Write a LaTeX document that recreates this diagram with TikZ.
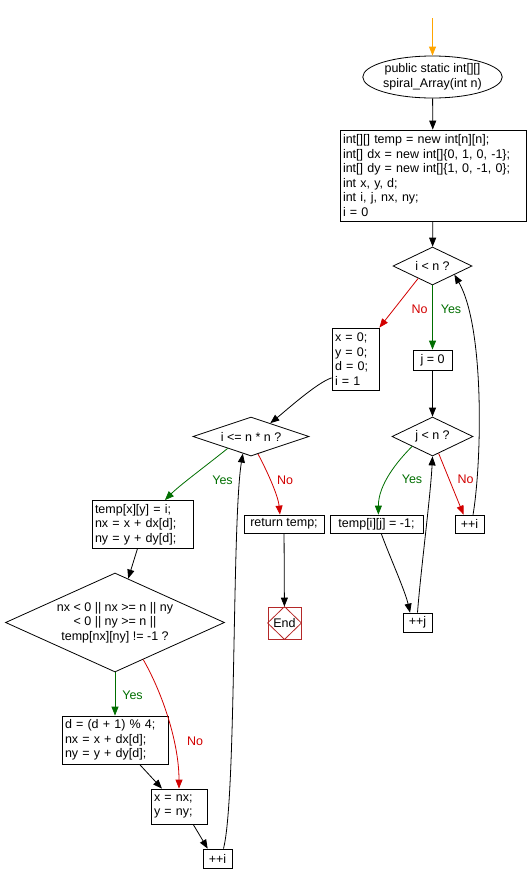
\documentclass[tikz,border=0pt]{standalone}
\usepackage{fontspec}
\setmainfont{Liberation Sans}
\usetikzlibrary{shapes.geometric,arrows.meta,calc}
\definecolor{yesg}{RGB}{0,110,0}
\definecolor{nor}{RGB}{210,0,0}
\definecolor{endr}{RGB}{180,40,40}
\definecolor{orng}{RGB}{255,165,0}
\begin{document}
\begin{tikzpicture}[x=1pt,y=-1pt,
  every node/.style={font=\fontsize{12.5}{14.5}\selectfont},
  box/.style={draw, fill=white, line width=0.8pt, inner xsep=3pt, inner ysep=0pt},
  lbox/.style={box, align=left},
  cbox/.style={box, align=center},
  dia/.style={draw, diamond, line width=0.8pt, inner sep=0pt},
  flow/.style={line width=0.8pt, -{Triangle[length=9pt,width=7pt]}},
  yesf/.style={flow, draw=yesg},
  nof/.style={flow, draw=nor},
  yeslbl/.style={text=yesg, inner sep=0pt},
  nolbl/.style={text=nor, inner sep=0pt}]
\useasboundingbox (0,0) rectangle (528,884);
% nodes
\node[draw, ellipse, line width=0.8pt, minimum width=127pt, minimum height=42pt, inner sep=0pt, align=center] (start) at (432.5,77) {public static int[][]\\spiral\_Array(int n)};
\node[lbox, minimum width=186pt, minimum height=91pt, text width=180pt] (init) at (433,175.5)
  {int[][] temp = new int[n][n];\\int[] dx = new int[]\{0, 1, 0, -1\};\\int[] dy = new int[]\{1, 0, -1, 0\};\\int x, y, d;\\int i, j, nx, ny;\\i = 0};
\node[dia, minimum width=79pt, minimum height=38pt] (d1) at (432.5,266) {};
\node[inner sep=0pt] (d1t) at (d1) {i < n ?};
\node[lbox, minimum width=47pt, minimum height=62pt, text width=41pt] (xbox) at (355.5,359) {x = 0;\\y = 0;\\d = 0;\\i = 1};
\node[cbox, minimum width=39pt, minimum height=20pt] (jbox) at (432.5,360) {j = 0};
\node[dia, minimum width=81pt, minimum height=39pt] (d2) at (432.5,436.5) {};
\node[inner sep=0pt] (d2t) at (d2) {j < n ?};
\node[cbox, minimum width=93pt, minimum height=18pt] (tij) at (376.5,524) {temp[i][j] = -1;};
\node[cbox, minimum width=29pt, minimum height=18pt] (inc1) at (469.5,524) {++i};
\node[cbox, minimum width=29pt, minimum height=19pt] (incj) at (417.5,622.5) {++j};
\node[dia, minimum width=116pt, minimum height=39pt] (d3) at (251,436.5) {};
\node[inner sep=0pt] (d3t) at (d3) {i <= n * n ?};
\node[lbox, minimum width=101pt, minimum height=48pt, text width=95pt] (txy) at (142.5,524.5) {temp[x][y] = i;\\nx = x + dx[d];\\ny = y + dy[d];};
\node[cbox, minimum width=80pt, minimum height=18pt] (ret) at (284,524) {return temp;};
\node[draw=endr, line width=0.8pt, minimum width=33pt, minimum height=32pt, inner sep=0pt] (endn) at (284.5,623) {};
\draw[endr, line width=0.8pt] (endn.north) -- (endn.east) -- (endn.south) -- (endn.west) -- cycle;
\node[inner sep=0pt] (endt) at (endn) {End};
\node[dia, minimum width=219pt, minimum height=99pt] (d4) at (115,622.5) {};
\node[inner sep=0pt, align=center] (d4t) at (d4) {nx < 0 || nx >= n || ny\\< 0 || ny >= n ||\\temp[nx][ny] != -1 ?};
\node[lbox, minimum width=106pt, minimum height=48pt, text width=100pt] (dbox) at (115,740) {d = (d + 1) \% 4;\\nx = x + dx[d];\\ny = y + dy[d];};
\node[lbox, minimum width=56pt, minimum height=35pt, text width=50pt] (xnx) at (179,806.5) {x = nx;\\y = ny;};
\node[cbox, minimum width=29pt, minimum height=19pt] (inc2) at (217.5,858.5) {++i};
% connectors
\coordinate (s0) at (432.5,18);
\draw[flow, draw=orng] (s0) -- (start);
\draw[flow] (start) -- (init);
\draw[flow] (init) -- (d1);
\draw[nof] ($(d1.west)!0.64!(d1.south)$) -- (xbox.north east);
\node[nolbl] at (419.5,309) {No};
\draw[yesf] (d1) -- (jbox);
\node[yeslbl] at (451,309) {Yes};
\draw[flow] (jbox) -- (d2);
\draw[yesf] ($(d2.west)!0.5!(d2.south)$) .. controls +(-15,15) and +(0,-30) .. ($(tij.north west)!0.52!(tij.north east)$);
\node[yeslbl] at (412,479) {Yes};
\draw[nof] ($(d2.south)!0.15!(d2.east)$) -- ($(inc1.north west)!0.3!(inc1.north east)$);
\node[nolbl] at (465.5,479) {No};
\draw[flow] ($(inc1.north west)!0.62!(inc1.north east)$) .. controls +(9,-55) and +(30,52) .. ($(d1.east)!0.45!(d1.south)$);
\draw[flow] ($(tij.south west)!0.55!(tij.south east)$) .. controls +(8,22) and +(-5,-22) .. ($(incj.north west)!0.25!(incj.north east)$);
\draw[flow] (incj.north) .. controls +(3,-40) and +(-2,40) .. (d2.south);
\draw[flow] ($(xbox.south west)!0.2!(xbox.north west)$) .. controls +(-15,5) and +(15,-12) .. ($(d3.north)!0.33!(d3.east)$);
\draw[yesf] ($(d3.west)!0.6!(d3.south)$) .. controls +(-25,20) and +(15,-15) .. ($(txy.north west)!0.72!(txy.north east)$);
\node[yeslbl] at (222.5,480) {Yes};
\draw[nof] ($(d3.south)!0.12!(d3.east)$) .. controls +(8,15) and +(-2,-20) .. ($(ret.north west)!0.45!(ret.north east)$);
\node[nolbl] at (285,480) {No};
\draw[flow] (ret) -- (endn);
\draw[flow] ($(txy.south west)!0.45!(txy.south east)$) -- ($(d4.north)!0.12!(d4.east)$);
\draw[yesf] (d4) -- (dbox);
\node[yeslbl] at (132.5,695) {Yes};
\draw[nof] ($(d4.south)!0.257!(d4.east)$) .. controls +(20,35) and +(0,-45) .. (xnx.north);
\node[nolbl] at (195,741) {No};
\draw[flow] ($(dbox.south west)!0.73!(dbox.south east)$) -- ($(xnx.north west)!0.2!(xnx.north east)$);
\draw[flow] ($(xnx.south west)!0.75!(xnx.south east)$) -- ($(inc2.north west)!0.17!(inc2.north east)$);
\draw[flow] ($(inc2.north west)!0.7!(inc2.north east)$) .. controls +(13,-49) and +(-11,67) .. ($(d3.west)!0.86!(d3.south)$);
\end{tikzpicture}
\end{document}
